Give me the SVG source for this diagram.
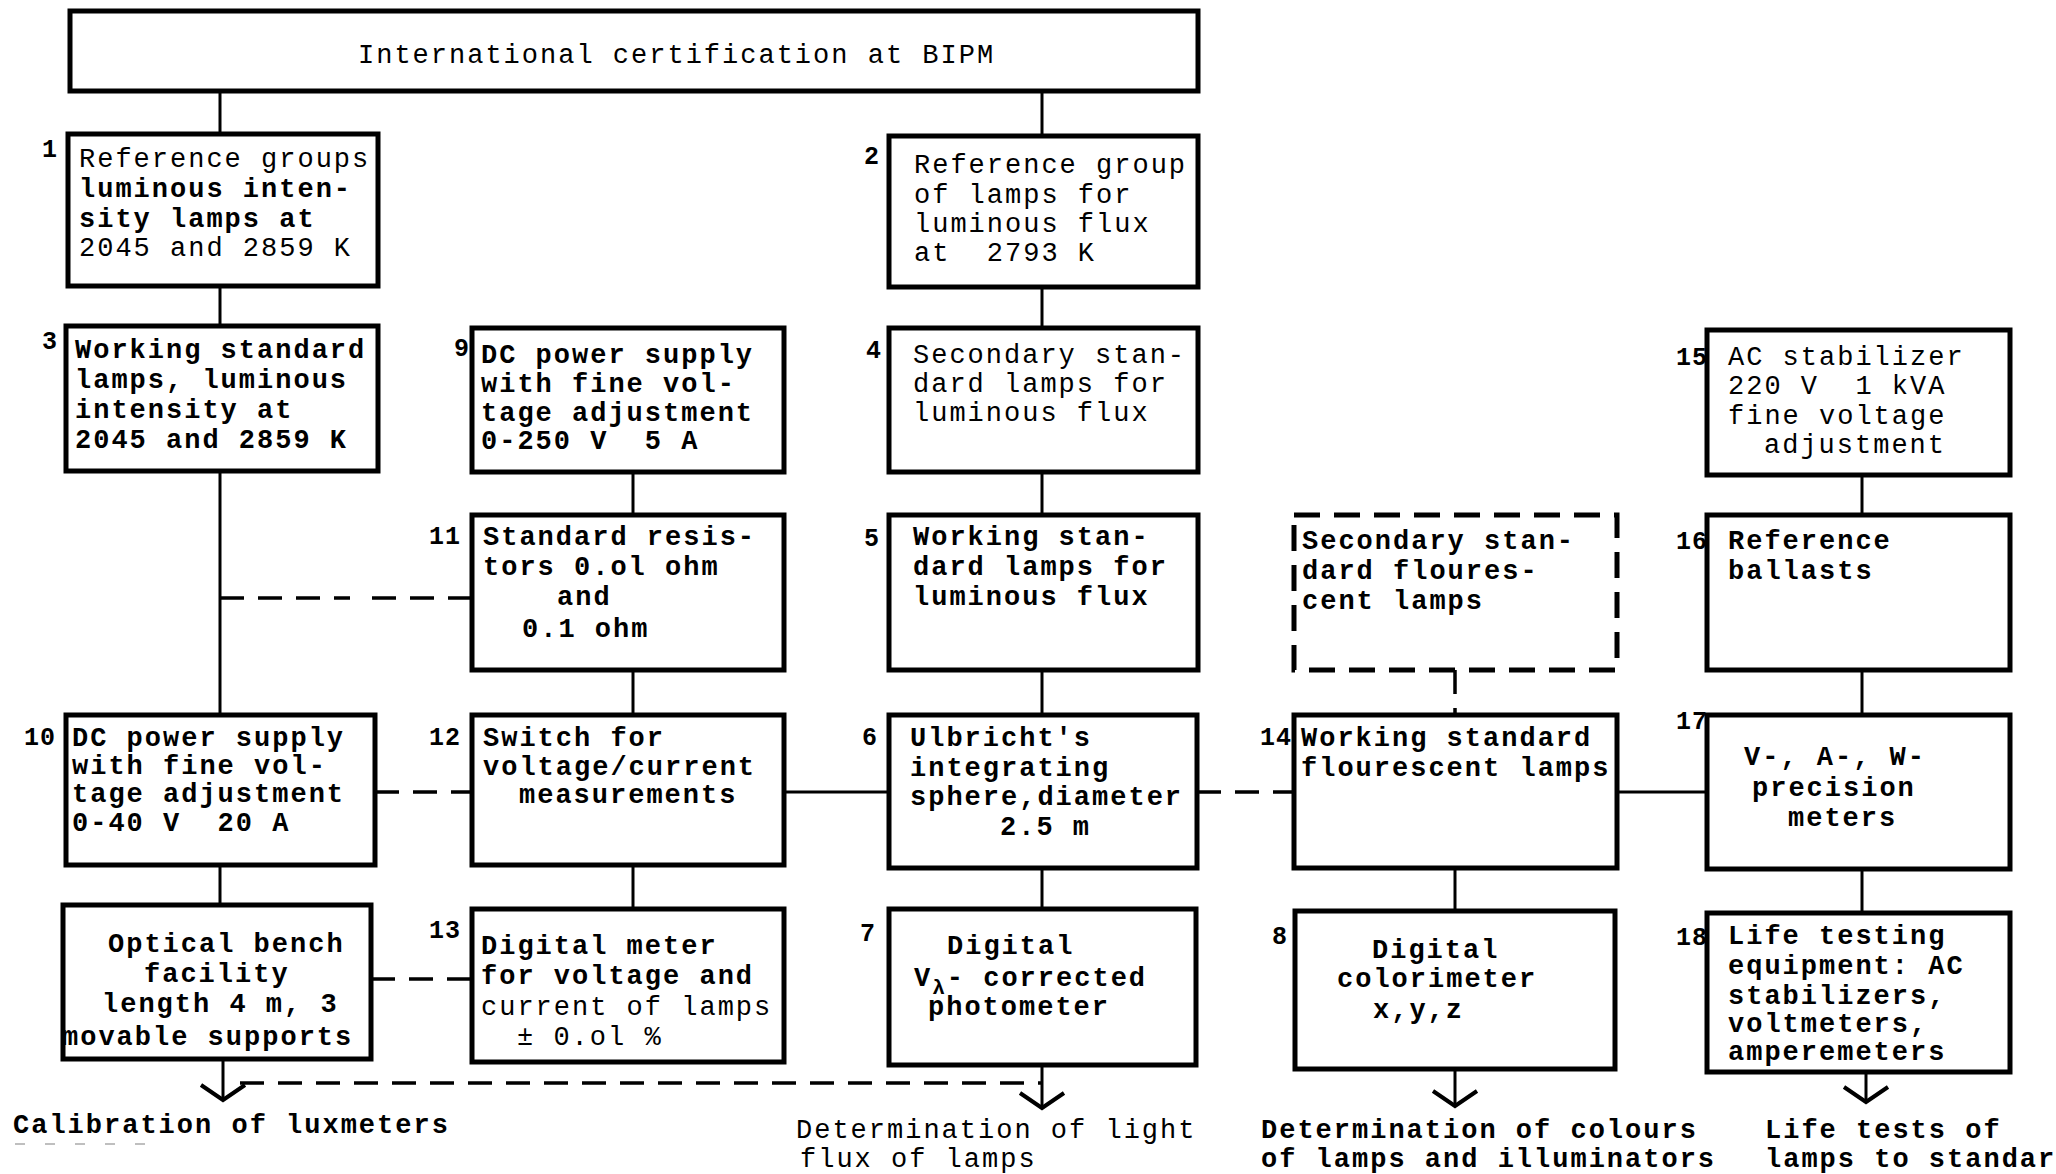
<svg xmlns="http://www.w3.org/2000/svg" width="2056" height="1174" viewBox="0 0 2056 1174">
<defs>
<style>
.box{fill:#fff;stroke:#000;stroke-width:5}
.dbox{fill:#fff;stroke:#000;stroke-width:5;stroke-dasharray:26 14}
.ln{stroke:#000;stroke-width:3;fill:none}
.dl{stroke:#000;stroke-width:3.5;fill:none;stroke-dasharray:24 14}
.t{font-family:"Liberation Mono","DejaVu Sans Mono",monospace;font-size:27px;font-weight:bold;letter-spacing:2px;fill:#000;white-space:pre}
.l{font-weight:normal}
.n{font-family:"Liberation Mono","DejaVu Sans Mono",monospace;font-size:25px;font-weight:bold;fill:#000;letter-spacing:1px}
</style>
<marker id="arr" markerUnits="userSpaceOnUse" viewBox="-20 -26 24 52" markerWidth="24" markerHeight="52" refX="0" refY="0" orient="auto">
<path d="M-15,-22 L0,0 L-15,22" fill="none" stroke="#000" stroke-width="4"/>
</marker>
</defs>
<rect width="2056" height="1174" fill="#fff"/>

<g id="connectors">
<line class="ln" x1="220" y1="91" x2="220" y2="134"/>
<line class="ln" x1="1042" y1="91" x2="1042" y2="136"/>
<line class="ln" x1="220" y1="286" x2="220" y2="326"/>
<line class="ln" x1="1042" y1="287" x2="1042" y2="328"/>
<line class="ln" x1="220" y1="471" x2="220" y2="715"/>
<path class="dl" d="M220,598 H350 M372,598 H472"/>
<line class="ln" x1="633" y1="472" x2="633" y2="515"/>
<line class="ln" x1="633" y1="670" x2="633" y2="715"/>
<line class="ln" x1="1042" y1="472" x2="1042" y2="515"/>
<line class="ln" x1="1042" y1="670" x2="1042" y2="715"/>
<line class="ln" x1="1862" y1="475" x2="1862" y2="515"/>
<line class="ln" x1="1862" y1="670" x2="1862" y2="715"/>
<line class="dl" x1="1455" y1="670" x2="1455" y2="715"/>
<line class="dl" x1="375" y1="792" x2="472" y2="792"/>
<line class="ln" x1="784" y1="792" x2="889" y2="792"/>
<line class="dl" x1="1197" y1="792" x2="1294" y2="792"/>
<line class="ln" x1="1617" y1="792" x2="1707" y2="792"/>
<line class="ln" x1="220" y1="865" x2="220" y2="905"/>
<line class="ln" x1="633" y1="865" x2="633" y2="909"/>
<line class="ln" x1="1042" y1="868" x2="1042" y2="909"/>
<line class="ln" x1="1455" y1="868" x2="1455" y2="911"/>
<line class="ln" x1="1862" y1="869" x2="1862" y2="913"/>
<line class="dl" x1="371" y1="979" x2="472" y2="979"/>
<line class="ln" x1="223" y1="1059" x2="223" y2="1100" marker-end="url(#arr)"/>
<line class="dl" x1="240" y1="1083" x2="1042" y2="1083"/>
<line class="ln" x1="1042" y1="1065" x2="1042" y2="1108" marker-end="url(#arr)"/>
<line class="ln" x1="1455" y1="1069" x2="1455" y2="1106" marker-end="url(#arr)"/>
<line class="ln" x1="1866" y1="1072" x2="1866" y2="1102" marker-end="url(#arr)"/>
</g>

<g id="n-bipm"><rect class="box" x="70" y="11" width="1128" height="80"/>
<text class="t l" x="358" y="63">International certification at BIPM</text></g>

<g id="n1"><rect class="box" x="68" y="134" width="310" height="152"/>
<text class="n" x="42" y="157">1</text>
<text class="t l" x="79" y="167">Reference groups</text>
<text class="t" x="79" y="197">luminous inten-</text>
<text class="t" x="79" y="227">sity lamps at</text>
<text class="t l" x="79" y="256">2045 and 2859 K</text></g>

<g id="n2"><rect class="box" x="889" y="136" width="309" height="151"/>
<text class="n" x="864" y="164">2</text>
<text class="t l" x="914" y="173">Reference group</text>
<text class="t l" x="914" y="203">of lamps for</text>
<text class="t l" x="914" y="232">luminous flux</text>
<text class="t l" x="914" y="261">at  2793 K</text></g>

<g id="n3"><rect class="box" x="66" y="326" width="312" height="145"/>
<text class="n" x="42" y="349">3</text>
<text class="t" x="75" y="358">Working standard</text>
<text class="t" x="75" y="388">lamps, luminous</text>
<text class="t" x="75" y="418">intensity at</text>
<text class="t" x="75" y="448">2045 and 2859 K</text></g>

<g id="n9"><rect class="box" x="472" y="328" width="312" height="144"/>
<text class="n" x="454" y="356">9</text>
<text class="t" x="481" y="363">DC power supply</text>
<text class="t" x="481" y="392">with fine vol-</text>
<text class="t" x="481" y="421">tage adjustment</text>
<text class="t" x="481" y="449">0-250 V  5 A</text></g>

<g id="n4"><rect class="box" x="889" y="328" width="309" height="144"/>
<text class="n" x="866" y="358">4</text>
<text class="t l" x="913" y="363">Secondary stan-</text>
<text class="t l" x="913" y="392">dard lamps for</text>
<text class="t l" x="913" y="421">luminous flux</text></g>

<g id="n15"><rect class="box" x="1707" y="330" width="303" height="145"/>
<text class="n" x="1676" y="365">15</text>
<text class="t l" x="1728" y="365">AC stabilizer</text>
<text class="t l" x="1728" y="394">220 V  1 kVA</text>
<text class="t l" x="1728" y="424">fine voltage</text>
<text class="t l" x="1764" y="453">adjustment</text></g>

<g id="n11"><rect class="box" x="472" y="515" width="312" height="155"/>
<text class="n" x="429" y="544">11</text>
<text class="t" x="483" y="545">Standard resis-</text>
<text class="t" x="483" y="575">tors 0.ol ohm</text>
<text class="t" x="557" y="605">and</text>
<text class="t" x="522" y="637">0.1 ohm</text></g>

<g id="n5"><rect class="box" x="889" y="515" width="309" height="155"/>
<text class="n" x="864" y="546">5</text>
<text class="t" x="913" y="545">Working stan-</text>
<text class="t" x="913" y="575">dard lamps for</text>
<text class="t" x="913" y="605">luminous flux</text></g>

<g id="n-sec-flour"><rect class="dbox" x="1294" y="515" width="323" height="155"/>
<text class="t" x="1302" y="549">Secondary stan-</text>
<text class="t" x="1302" y="579">dard floures-</text>
<text class="t" x="1302" y="609">cent lamps</text></g>

<g id="n16"><rect class="box" x="1707" y="515" width="303" height="155"/>
<text class="n" x="1676" y="549">16</text>
<text class="t" x="1728" y="549">Reference</text>
<text class="t" x="1728" y="579">ballasts</text></g>

<g id="n10"><rect class="box" x="66" y="715" width="309" height="150"/>
<text class="n" x="24" y="745">10</text>
<text class="t" x="72" y="746">DC power supply</text>
<text class="t" x="72" y="774">with fine vol-</text>
<text class="t" x="72" y="802">tage adjustment</text>
<text class="t" x="72" y="831">0-40 V  20 A</text></g>

<g id="n12"><rect class="box" x="472" y="715" width="312" height="150"/>
<text class="n" x="429" y="745">12</text>
<text class="t" x="483" y="746">Switch for</text>
<text class="t" x="483" y="775">voltage/current</text>
<text class="t" x="519" y="803">measurements</text></g>

<g id="n6"><rect class="box" x="889" y="715" width="308" height="153"/>
<text class="n" x="862" y="745">6</text>
<text class="t" x="910" y="746">Ulbricht's</text>
<text class="t" x="910" y="776">integrating</text>
<text class="t" x="910" y="805">sphere,diameter</text>
<text class="t" x="1000" y="835">2.5 m</text></g>

<g id="n14"><rect class="box" x="1294" y="715" width="323" height="153"/>
<text class="n" x="1260" y="745">14</text>
<text class="t" x="1301" y="746">Working standard</text>
<text class="t" x="1301" y="776">flourescent lamps</text></g>

<g id="n17"><rect class="box" x="1707" y="715" width="303" height="154"/>
<text class="n" x="1676" y="729">17</text>
<text class="t" x="1744" y="765">V-, A-, W-</text>
<text class="t" x="1752" y="796">precision</text>
<text class="t" x="1788" y="826">meters</text></g>

<g id="n-optical"><rect class="box" x="63" y="905" width="308" height="154"/>
<text class="t" x="108" y="952">Optical bench</text>
<text class="t" x="144" y="982">facility</text>
<text class="t" x="102" y="1012">length 4 m, 3</text>
<text class="t" x="62" y="1045">movable supports</text></g>

<g id="n13"><rect class="box" x="472" y="909" width="312" height="153"/>
<text class="n" x="429" y="938">13</text>
<text class="t" x="481" y="954">Digital meter</text>
<text class="t" x="481" y="984">for voltage and</text>
<text class="t l" x="481" y="1015">current of lamps</text>
<text class="t l" x="517" y="1045">± 0.ol %</text></g>

<g id="n7"><rect class="box" x="889" y="909" width="307" height="156"/>
<text class="n" x="860" y="941">7</text>
<text class="t" x="947" y="954">Digital</text>
<text class="t" x="914" y="986">V<tspan dy="8" font-size="21">λ</tspan><tspan dy="-8">- corrected</tspan></text>
<text class="t" x="928" y="1015">photometer</text></g>

<g id="n8"><rect class="box" x="1295" y="911" width="320" height="158"/>
<text class="n" x="1272" y="944">8</text>
<text class="t" x="1372" y="958">Digital</text>
<text class="t" x="1337" y="987">colorimeter</text>
<text class="t" x="1373" y="1018">x,y,z</text></g>

<g id="n18"><rect class="box" x="1707" y="913" width="303" height="159"/>
<text class="n" x="1676" y="945">18</text>
<text class="t" x="1728" y="944">Life testing</text>
<text class="t" x="1728" y="974">equipment: AC</text>
<text class="t" x="1728" y="1004">stabilizers,</text>
<text class="t" x="1728" y="1032">voltmeters,</text>
<text class="t" x="1728" y="1060">amperemeters</text></g>

<g id="outputs">
<text class="t" x="13" y="1133">Calibration of luxmeters</text>
<line x1="15" y1="1144" x2="150" y2="1144" stroke="#aaa" stroke-width="1.5" stroke-dasharray="10 20"/>
<text class="t l" x="796" y="1138">Determination of light</text>
<text class="t l" x="800" y="1167">flux of lamps</text>
<text class="t" x="1261" y="1138">Determination of colours</text>
<text class="t" x="1261" y="1167">of lamps and illuminators</text>
<text class="t" x="1765" y="1138">Life tests of</text>
<text class="t" x="1765" y="1167">lamps to standard</text>
</g>
</svg>
